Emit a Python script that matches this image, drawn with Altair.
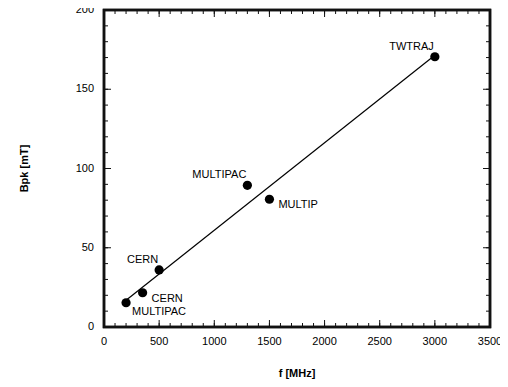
import altair as alt
import pandas as pd

# ---- data ----
freq_mhz = [200, 350, 500, 1300, 1500, 3000]
bpk_mt = [15.3, 21.6, 36.0, 89.4, 80.6, 170.5]
codes = ["MULTIPAC", "CERN", "CERN", "MULTIPAC", "MULTIP", "TWTRAJ"]
label_side = ["under", "right", "above", "above", "right", "above"]

x_major = [0, 500, 1000, 1500, 2000, 2500, 3000, 3500]
x_minor = list(range(0, 3501, 100))
y_major = [0, 50, 100, 150, 200]
y_minor = list(range(0, 201, 10))

x_title = "f [MHz]"
y_title = "Bpk [mT]"

W, H = 386, 317
FONT = "Liberation Sans"
INK = "#111111"

df = pd.DataFrame({"f": freq_mhz, "Bpk": bpk_mt, "code": codes, "side": label_side})

xscale = alt.Scale(domain=[0, 3500], nice=False)
yscale = alt.Scale(domain=[0, 200], nice=False)


def X(field="f"):
    return alt.X(field, type="quantitative", scale=xscale, axis=None)


def Y(field="Bpk"):
    return alt.Y(field, type="quantitative", scale=yscale, axis=None)


base = alt.Chart(df)

points = base.mark_circle(size=85, color="black", opacity=1).encode(x=X(), y=Y())

fit = base.transform_regression("f", "Bpk").mark_line(color="black", strokeWidth=1.2).encode(
    x=X(), y=Y())

txt = dict(fontSize=11, font=FONT, color="black")
labels_above = base.transform_filter(alt.datum.side == "above").mark_text(
    align="right", baseline="alphabetic", dx=-1, dy=-7, **txt
).encode(x=X(), y=Y(), text="code:N")

labels_right = base.transform_filter(alt.datum.side == "right").mark_text(
    align="left", baseline="top", dx=9, dy=0, **txt
).encode(x=X(), y=Y(), text="code:N")

labels_under = base.transform_filter(alt.datum.side == "under").mark_text(
    align="left", baseline="top", dx=6, dy=3, **txt
).encode(x=X(), y=Y(), text="code:N")


def xticks(vals, length):
    d = pd.DataFrame({"f": vals})
    bottom = alt.Chart(d).mark_rule(color=INK, strokeWidth=1).encode(
        x=X("f"), y=alt.value(H), y2=alt.value(H - length))
    top = alt.Chart(d).mark_rule(color=INK, strokeWidth=1).encode(
        x=X("f"), y=alt.value(0), y2=alt.value(length))
    return [bottom, top]


def yticks(vals, length):
    d = pd.DataFrame({"Bpk": vals})
    left = alt.Chart(d).mark_rule(color=INK, strokeWidth=1).encode(
        y=Y("Bpk"), x=alt.value(0), x2=alt.value(length))
    right = alt.Chart(d).mark_rule(color=INK, strokeWidth=1).encode(
        y=Y("Bpk"), x=alt.value(W), x2=alt.value(W - length))
    return [left, right]


# tick labels drawn as text through the scales
xlab = alt.Chart(pd.DataFrame({"f": x_major})).mark_text(
    align="center", baseline="middle", **txt).encode(
    x=X("f"), y=alt.value(H + 15), text=alt.Text("f:Q", format="d"))
ylab = alt.Chart(pd.DataFrame({"Bpk": y_major})).mark_text(
    align="right", baseline="middle", **txt).encode(
    y=Y("Bpk"), x=alt.value(-10), text=alt.Text("Bpk:Q", format="d"))

# axis titles
xt = alt.Chart(alt.Data(values=[{"t": x_title}])).mark_text(
    align="center", baseline="middle", fontWeight="bold", **txt).encode(
    x=alt.value(W / 2), y=alt.value(H + 47), text="t:N")
yt = alt.Chart(alt.Data(values=[{"t": y_title}])).mark_text(
    align="center", baseline="middle", fontWeight="bold", angle=270, **txt).encode(
    x=alt.value(-79), y=alt.value(H / 2), text="t:N")

# frame
frame = alt.Chart(alt.Data(values=[{"a": 0}])).mark_rect(
    fill="transparent", stroke=INK, strokeWidth=2.5).encode(
    x=alt.value(0), x2=alt.value(W), y=alt.value(0), y2=alt.value(H))

layers = (xticks(x_minor, 4) + xticks(x_major, 7) + yticks(y_minor, 4) + yticks(y_major, 7)
          + [frame, fit, points, labels_above, labels_right, labels_under,
             xlab, ylab, xt, yt])

chart = alt.layer(*layers).properties(
    width=W, height=H,
    autosize=alt.AutoSizeParams(type="none"),
    padding={"left": 96, "top": 2, "right": 10, "bottom": 52},
).configure_view(stroke=INK, strokeWidth=2.5)

chart.save("out.html", embed_options={"renderer": "svg", "actions": False})
